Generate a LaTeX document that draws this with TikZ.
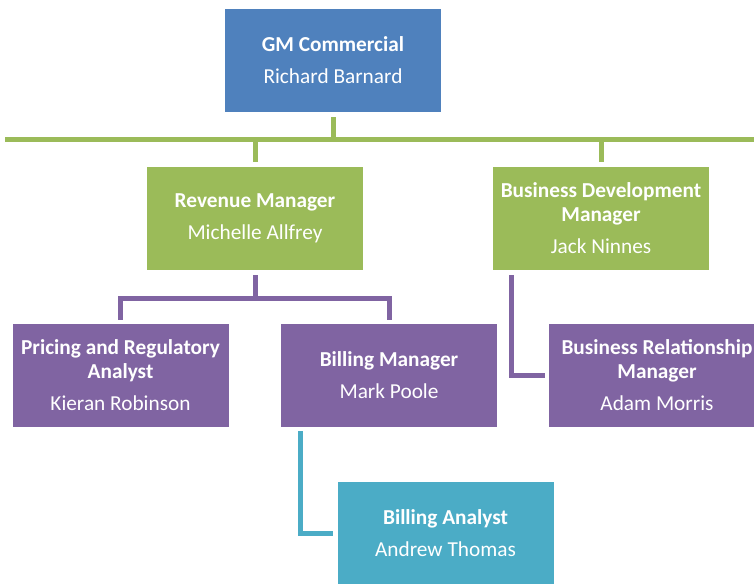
\documentclass[tikz,border=0pt]{standalone}
\usepackage{fontspec}
\setmainfont{Carlito}
\usetikzlibrary{calc}
\definecolor{gmblue}{RGB}{79,129,189}
\definecolor{mgrgreen}{RGB}{155,187,89}
\definecolor{staffpurple}{RGB}{128,100,162}
\definecolor{analystteal}{RGB}{75,172,198}
\tikzset{
  orgbox/.style={rectangle, minimum width=216pt, minimum height=103pt, inner sep=0pt,
    text=white, align=center, font=\fontsize{21.3}{24}\selectfont},
  link/.style={line width=5pt, line cap=rect, line join=miter},
}
\newcommand{\roleline}[2]{\textbf{#1}\\[8pt]#2}
\begin{document}
\begin{tikzpicture}[x=1pt, y=-1pt]
\useasboundingbox (0,0) rectangle (754,583);
\clip (0,0) rectangle (754,583);
\fill[white] (0,0) rectangle (754,583);

% boxes
\node[orgbox, fill=gmblue] (gm) at (333,60.5) {\roleline{GM Commercial}{Richard Barnard}};
\node[orgbox, fill=mgrgreen] (rev) at (255,218.5) {\roleline{Revenue Manager}{Michelle Allfrey}};
\node[orgbox, fill=mgrgreen] (bd) at (601,218.5) {\textbf{Business Development}\\\textbf{Manager}\\[8pt]Jack Ninnes};
\node[orgbox, fill=staffpurple] (pra) at (120.5,375) {\textbf{Pricing and Regulatory}\\\textbf{Analyst}\\[8pt]Kieran Robinson};
\node[orgbox, fill=staffpurple] (bm) at (389,375) {\roleline{Billing Manager}{Mark Poole}};
\node[orgbox, fill=staffpurple] (brm) at (657,375) {\textbf{Business Relationship}\\\textbf{Manager}\\[8pt]Adam Morris};
\node[orgbox, fill=analystteal] (ba) at (445.5,533.5) {\roleline{Billing Analyst}{Andrew Thomas}};

% green bus under the general manager
\coordinate (busL) at (7,139);
\coordinate (busR) at (760,139);
\draw[link, mgrgreen] (busL) -- (busR);
\draw[link, mgrgreen] ($(gm.south)+(0,7)$) -- (gm.south |- busR);
\draw[link, mgrgreen] ($(rev.north)+(0,-7)$) -- (rev.north |- busR);
\draw[link, mgrgreen] ($(bd.north)+(0,-7)$) -- (bd.north |- busR);

% purple bracket under the revenue manager
\coordinate (rbus) at (0,298);
\draw[link, staffpurple] ($(rev.south)+(0,7)$) -- (rev.south |- rbus);
\draw[link, staffpurple] ($(pra.north)+(0,-6)$) -- (pra.north |- rbus) -- (bm.north |- rbus) -- ($(bm.north)+(0,-6)$);

% side links
\draw[link, staffpurple] ($(bd.south west)+(19,7)$) |- ($(brm.west)+(-6,0)$);
\draw[link, analystteal] ($(bm.south west)+(20,7)$) |- ($(ba.west)+(-7,0)$);
\end{tikzpicture}
\end{document}
